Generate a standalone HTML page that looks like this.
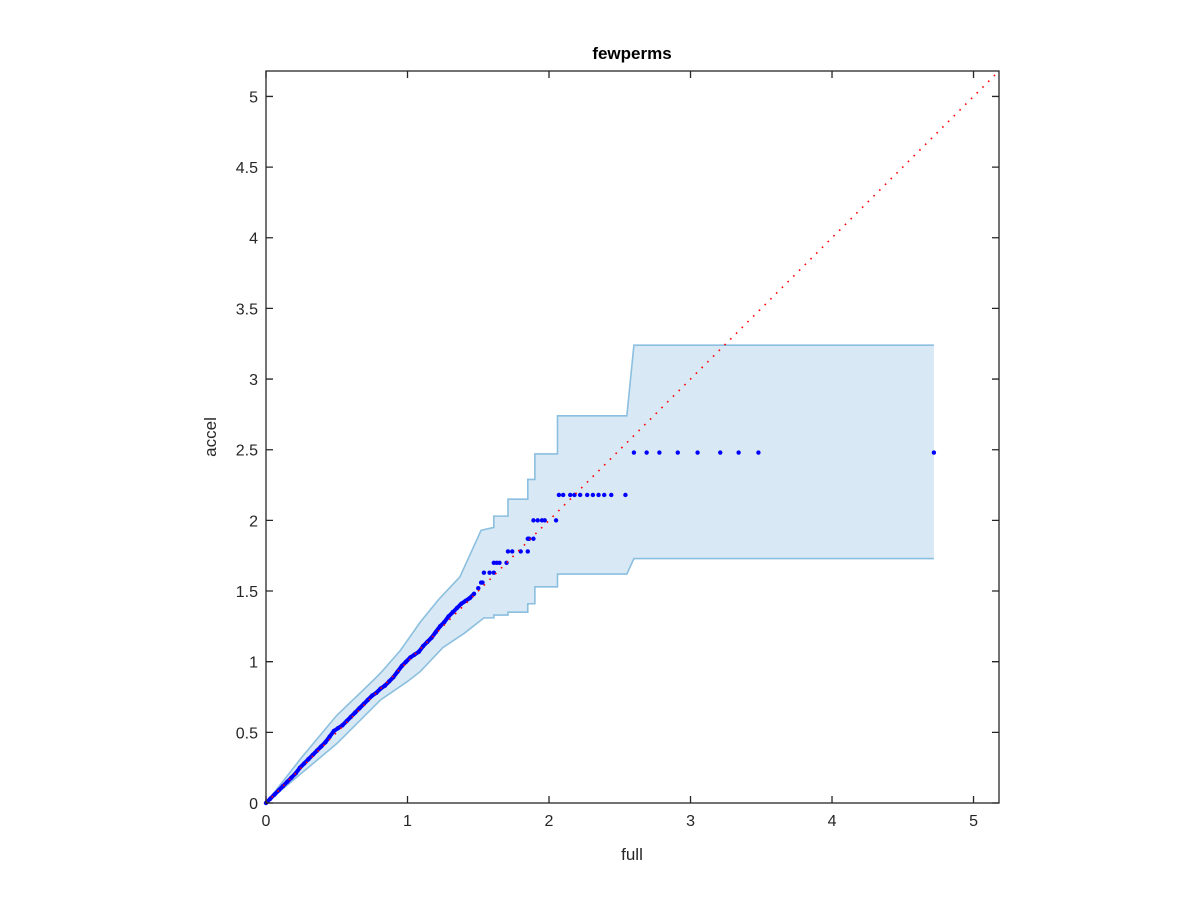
<!DOCTYPE html>
<html><head><meta charset="utf-8"><style>
html,body{margin:0;padding:0;background:#fff;}
svg{display:block;font-family:"Liberation Sans",sans-serif;}
</style></head><body>
<svg id="chart" width="1200" height="900">
<rect width="1200" height="900" fill="#fff"/>
<g id="plot"></g>
<text x="632" y="59" text-anchor="middle" font-size="17" font-weight="bold" fill="#000">fewperms</text>
<text x="632" y="860" text-anchor="middle" font-size="17" fill="#262626">full</text>
<text transform="translate(216,437) rotate(-90)" text-anchor="middle" font-size="17" fill="#262626">accel</text>
</svg>
<script>
const xTicks=[0,1,2,3,4,5];
const yTicks=[0,0.5,1,1.5,2,2.5,3,3.5,4,4.5,5];
const upperX=[0,0.25,0.5,0.75,0.81,0.95,1.09,1.22,1.37,1.52,1.61,1.61,1.71,1.71,1.85,1.85,1.90,1.90,2.06,2.06,2.55,2.60,4.72];
const upperY=[0,0.32,0.62,0.86,0.92,1.08,1.28,1.44,1.60,1.93,1.95,2.03,2.03,2.15,2.15,2.29,2.29,2.47,2.47,2.74,2.74,3.24,3.24];
const lowerX=[0,0.25,0.5,0.81,1.0,1.09,1.25,1.40,1.54,1.61,1.61,1.71,1.71,1.85,1.85,1.90,1.90,2.06,2.06,2.55,2.60,4.72];
const lowerY=[0,0.21,0.42,0.73,0.86,0.93,1.10,1.20,1.31,1.31,1.33,1.33,1.35,1.35,1.41,1.41,1.53,1.53,1.62,1.62,1.73,1.73];
const ptsX=[0,0.03,0.06,0.09,0.12,0.15,0.18,0.21,0.24,0.27,0.30,0.33,0.36,0.39,0.42,0.45,0.48,0.51,0.54,0.57,0.60,0.63,0.66,0.69,0.72,0.75,0.78,0.81,0.84,0.87,0.90,0.93,0.96,0.99,1.02,1.05,1.08,1.11,1.14,1.17,1.20,1.23,1.26,1.29,1.32,1.35,1.38,1.41,1.44,1.47,1.50,1.52,1.53,1.54,1.58,1.61,1.61,1.63,1.65,1.70,1.71,1.74,1.80,1.85,1.85,1.86,1.89,1.89,1.92,1.95,1.97,2.05,2.07,2.10,2.15,2.18,2.22,2.27,2.31,2.35,2.39,2.44,2.54,2.60,2.69,2.78,2.91,3.05,3.21,3.34,3.48,4.72];
const ptsY=[0,0.03,0.06,0.09,0.12,0.15,0.18,0.21,0.25,0.28,0.31,0.34,0.37,0.40,0.43,0.47,0.51,0.53,0.55,0.58,0.61,0.64,0.67,0.70,0.73,0.76,0.78,0.81,0.83,0.86,0.89,0.93,0.97,1.00,1.03,1.05,1.07,1.11,1.14,1.17,1.21,1.25,1.28,1.32,1.35,1.38,1.41,1.43,1.45,1.48,1.52,1.56,1.56,1.63,1.63,1.63,1.70,1.70,1.70,1.70,1.78,1.78,1.78,1.78,1.87,1.87,1.87,2.00,2.00,2.00,2.00,2.00,2.18,2.18,2.18,2.18,2.18,2.18,2.18,2.18,2.18,2.18,2.18,2.48,2.48,2.48,2.48,2.48,2.48,2.48,2.48,2.48];
const diagX=[0,5.18];
const diagY=[0,5.18];

const L=266,R=999,T=71,B=803,XMAX=5.18,YMAX=5.18;
const sx=v=>L+v/XMAX*(R-L);
const sy=v=>B-v/YMAX*(B-T);
const NS="http://www.w3.org/2000/svg";
const g=document.getElementById('plot');
function mk(tag,attrs){const e=document.createElementNS(NS,tag);for(const k in attrs)e.setAttribute(k,attrs[k]);g.appendChild(e);return e;}

let d='M'+upperX.map((x,i)=>sx(x)+','+sy(upperY[i])).join('L');
for(let i=lowerX.length-1;i>=0;i--) d+='L'+sx(lowerX[i])+','+sy(lowerY[i]);
d+='Z';
const band=mk('path',{d:d,fill:'#d8e8f4',stroke:'none'});


const up=mk('path',{d:'M'+upperX.map((x,i)=>sx(x)+','+sy(upperY[i])).join('L'),fill:'none',stroke:'#8bbfdf','stroke-width':1.6});


const lo=mk('path',{d:'M'+lowerX.map((x,i)=>sx(x)+','+sy(lowerY[i])).join('L'),fill:'none',stroke:'#8bbfdf','stroke-width':1.6});



for(let i=0;i<ptsX.length;i++){
  const c=mk('circle',{cx:sx(ptsX[i]),cy:sy(ptsY[i]),r:2.2,fill:'#0000ff'});
  
  
}
// fill dense low region
const dense=mk('path',{d:'M'+ptsX.slice(0,50).map((x,i)=>sx(x)+','+sy(ptsY[i])).join('L'),fill:'none',stroke:'#0000ff','stroke-width':4,'stroke-linecap':'round'});



const diag=mk('line',{x1:sx(diagX[0]),y1:sy(diagY[0]),x2:sx(diagX[1]),y2:sy(diagY[1]),stroke:'#ff0000','stroke-width':1.6,'stroke-dasharray':'1.6 6.5'});



const box=mk('rect',{x:L,y:T,width:R-L,height:B-T,fill:'none',stroke:'#262626','stroke-width':1.3});


xTicks.forEach(v=>{
  const x=sx(v);
  const t1=mk('path',{d:`M${x},${B}V${B-7}M${x},${T}V${T+7}`,stroke:'#262626','stroke-width':1.3});
  
  
  const t=mk('text',{x:x,y:B+23,'text-anchor':'middle','font-size':16,fill:'#262626'});
  t.textContent=v;
  
  
});
yTicks.forEach(v=>{
  const y=sy(v);
  const t1=mk('path',{d:`M${L},${y}H${L+7}M${R},${y}H${R-7}`,stroke:'#262626','stroke-width':1.3});
  
  
  const t=mk('text',{x:L-8,y:y+6,'text-anchor':'end','font-size':16,fill:'#262626'});
  t.textContent=v;
  
  
});
</script>
</body></html>
